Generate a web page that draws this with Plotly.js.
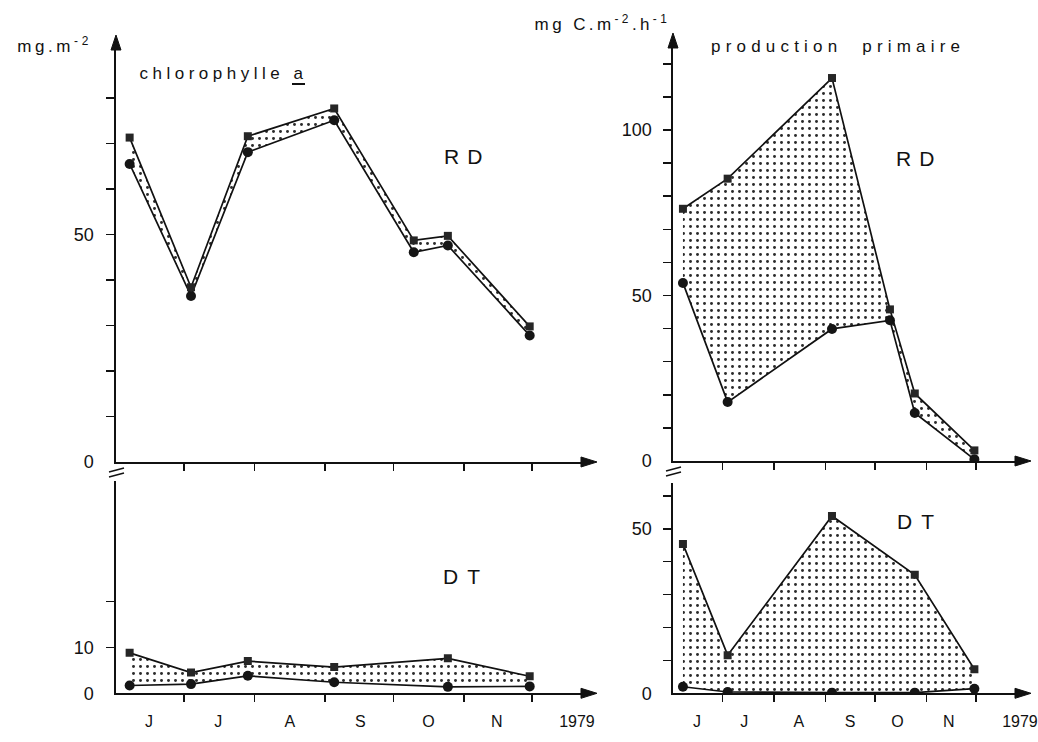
<!DOCTYPE html>
<html>
<head>
<meta charset="utf-8">
<script src="https://cdn.plot.ly/plotly-3.0.1.min.js"></script>
<style>html,body{margin:0;padding:0;background:#fff;}#chart{width:1038px;height:742px;}</style>
</head>
<body>
<div id="chart"></div>
<script>
// ---- data (x = days since 1 June 1979) ----
const monthLabels = ['J','J','A','S','O','N','1979'];
const monthMidLeft = [14.5, 45, 76.5, 107.5, 137.5, 167.5, 202.8];
const monthMidRight = [14.5, 43, 76, 107, 135.5, 166.5, 209.5];
const monthEdges = [30, 61, 92, 122, 153, 183];

const chlRD_days = [6, 33, 58, 96, 131, 146, 182];
const chlRD_max  = [71.3, 38.4, 71.6, 77.7, 48.7, 49.7, 29.8];
const chlRD_min  = [65.5, 36.5, 68.1, 75.1, 46.1, 47.6, 27.8];

const chlDT_days = [6, 33, 58, 96, 146, 182];
const chlDT_max  = [8.8, 4.5, 7.0, 5.7, 7.6, 3.7];
const chlDT_min  = [1.7, 2.0, 3.8, 2.4, 1.4, 1.5];

const ppRD_days = [6, 33, 96, 131, 146, 182];
const ppRD_max  = [76.2, 85.3, 115.7, 45.8, 20.4, 3.2];
const ppRD_min  = [53.8, 17.8, 39.9, 42.5, 14.5, 0.5];

const ppDT_days = [6, 33, 96, 146, 182];
const ppDT_max  = [45.4, 11.6, 53.9, 36.0, 7.3];
const ppDT_min  = [2.0, 0.4, 0.2, 0.2, 1.4];

const chlTopTicks = [10, 20, 30, 40, 50, 60, 70, 80];
const chlTopLabels = ['0', '50'];
const chlTopLabelVals = [0, 50.0001];
const chlBotTicks = [10, 20];
const chlBotLabels = ['0', '10'];
const chlBotLabelVals = [0, 10.0001];
const ppTopTicks = [10, 20, 30, 40, 50, 60, 70, 80, 90, 100, 110, 120];
const ppTopLabels = ['0', '50', '100'];
const ppTopLabelVals = [0, 50.0001, 100.0001];
const ppBotTicks = [10, 20, 30, 40, 50, 60];
const ppBotLabels = ['0', '50'];
const ppBotLabelVals = [0, 50.0001];

// ---- helpers ----
const W = 1038, H = 742;
const px = x => x / W;
const py = y => 1 - y / H;
const FONT = 'Liberation Sans, Arial, sans-serif';
const INK = '#111';

function pair(days, lo, hi, xa, ya) {
  return [
    {x: days, y: lo, xaxis: xa, yaxis: ya, type: 'scatter', mode: 'lines+markers',
     line: {color: INK, width: 1.7},
     marker: {symbol: 'circle', size: 10, color: '#151515'},
     hoverinfo: 'skip', showlegend: false},
    {x: days, y: hi, xaxis: xa, yaxis: ya, type: 'scatter', mode: 'lines+markers',
     fill: 'tonexty', fillcolor: 'rgba(0,0,0,0)',
     fillpattern: {shape: '.', size: 7, solidity: 0.14, fgcolor: '#2a2a2a', bgcolor: 'rgba(0,0,0,0)'},
     line: {color: INK, width: 1.7},
     marker: {symbol: 'square', size: 8, color: '#262626'},
     hoverinfo: 'skip', showlegend: false}
  ];
}

const data = [].concat(
  pair(chlRD_days, chlRD_min, chlRD_max, 'x', 'y'),
  pair(chlDT_days, chlDT_min, chlDT_max, 'x2', 'y2'),
  pair(ppRD_days, ppRD_min, ppRD_max, 'x3', 'y3'),
  pair(ppDT_days, ppDT_min, ppDT_max, 'x4', 'y4')
);

function xTop(dom, rng, anchor) {
  return {domain: dom, range: rng, anchor: anchor, showline: true, linecolor: INK, linewidth: 1.7,
    showgrid: false, zeroline: false, showticklabels: false, ticks: 'outside',
    tickmode: 'array', tickvals: monthEdges, ticklen: 7, tickwidth: 1.5, tickcolor: INK, fixedrange: true};
}
function xBot(dom, rng, anchor, mids) {
  return {domain: dom, range: rng, anchor: anchor, showline: true, linecolor: INK, linewidth: 1.7,
    showgrid: false, zeroline: false, ticks: '', tickmode: 'array', tickvals: mids, ticktext: monthLabels,
    ticklabelstandoff: 13, tickfont: {family: FONT, size: 16, color: INK},
    minor: {tickmode: 'array', tickvals: monthEdges, ticks: 'outside', ticklen: 7, tickwidth: 1.5, tickcolor: INK},
    fixedrange: true};
}
function yAx(dom, rng, anchor, ticks, labVals, labs, standoff) {
  return {domain: dom, range: rng, anchor: anchor, showline: true, linecolor: INK, linewidth: 1.7,
    showgrid: false, zeroline: false, ticks: '', tickmode: 'array', tickvals: labVals, ticktext: labs,
    ticklabelstandoff: standoff, tickfont: {family: FONT, size: 18, color: INK},
    minor: {tickmode: 'array', tickvals: ticks, ticks: 'outside', ticklen: 8, tickwidth: 1.5, tickcolor: INK},
    fixedrange: true};
}

const leftX = [px(116), px(590)], leftR = [0, (590 - 116) / 2.273];
const rightX = [px(673), px(1025)], rightR = [0, (1025 - 673) / 1.656];

function tri(p1, p2, p3) {
  const f = p => px(p[0]).toFixed(5) + ',' + py(p[1]).toFixed(5);
  return {type: 'path', xref: 'paper', yref: 'paper',
    path: 'M' + f(p1) + ' L' + f(p2) + ' L' + f(p3) + ' Z',
    fillcolor: INK, line: {color: INK, width: 1}};
}
function upArrow(x, y) { return tri([x, y], [x - 5, y + 15], [x + 5, y + 15]); }
function rightArrow(x, y) { return tri([x, y], [x - 16, y - 5], [x - 16, y + 5]); }
function seg(x0, y0, x1, y1, w) {
  return {type: 'line', xref: 'paper', yref: 'paper', x0: px(x0), x1: px(x1), y0: py(y0), y1: py(y1),
    line: {color: INK, width: w}};
}
function label(l) {
  // l = [centerX, y, text, size, letterSpacing]
  return {xref: 'paper', yref: 'paper', x: px(l[0] + l[4] / 2), y: py(l[1]), xanchor: 'center', yanchor: 'middle',
    showarrow: false, text: l[2], font: {family: FONT, size: l[3], color: INK}};
}

// [centre x, y, text, size, letter-spacing px]
const labels = [
  [53, 45, 'mg.m<sup>-2</sup>', 17, 3.6],
  [601, 23, 'mg C.m<sup>-2</sup>.h<sup>-1</sup>', 17, 3.4],
  [221, 73, 'chlorophylle a', 17, 4.5],
  [835, 47, 'production  primaire', 17, 5.2],
  [462.5, 157, 'RD', 21, 8],
  [915, 158, 'RD', 21, 8],
  [461.5, 576, 'DT', 21, 9],
  [915.5, 521, 'DT', 21, 9]
];

const layout = {
  width: W, height: H, autosize: false,
  margin: {l: 0, r: 0, t: 0, b: 0},
  paper_bgcolor: '#fff', plot_bgcolor: 'rgba(0,0,0,0)',
  showlegend: false,
  xaxis: xTop(leftX, leftR, 'y'),
  yaxis: yAx([py(462), py(44)], [0, (462 - 44) / 4.55], 'x', chlTopTicks, chlTopLabelVals, chlTopLabels, 17),
  xaxis2: xBot(leftX, leftR, 'y2', monthMidLeft),
  yaxis2: yAx([py(693.3), py(481)], [0, (693.3 - 481) / 4.6], 'x2', chlBotTicks, chlBotLabelVals, chlBotLabels, 17),
  xaxis3: xTop(rightX, rightR, 'y3'),
  yaxis3: yAx([py(461), py(41)], [0, (461 - 41) / 3.31], 'x3', ppTopTicks, ppTopLabelVals, ppTopLabels, 16),
  xaxis4: xBot(rightX, rightR, 'y4', monthMidRight),
  yaxis4: yAx([py(693.3), py(483)], [0, (693.3 - 483) / 3.29], 'x4', ppBotTicks, ppBotLabelVals, ppBotLabels, 16),
  annotations: labels.map(label),
  shapes: [
    upArrow(116, 35), upArrow(673, 33),
    rightArrow(597, 462), rightArrow(597, 693.3),
    rightArrow(1031, 461), rightArrow(1031, 693.3),
    seg(292, 84, 305, 84, 2),
    seg(109, 472, 124, 468, 1.5), seg(109, 477, 124, 473, 1.5),
    seg(666, 471, 681, 467, 1.5), seg(666, 476, 681, 472, 1.5)
  ]
};

Plotly.newPlot('chart', data, layout, {staticPlot: true, displayModeBar: false}).then(gd => {
  const texts = gd.querySelectorAll('.annotation-text');
  texts.forEach((t, i) => { if (labels[i]) t.style.letterSpacing = labels[i][4] + 'px'; });
});
</script>
</body>
</html>
